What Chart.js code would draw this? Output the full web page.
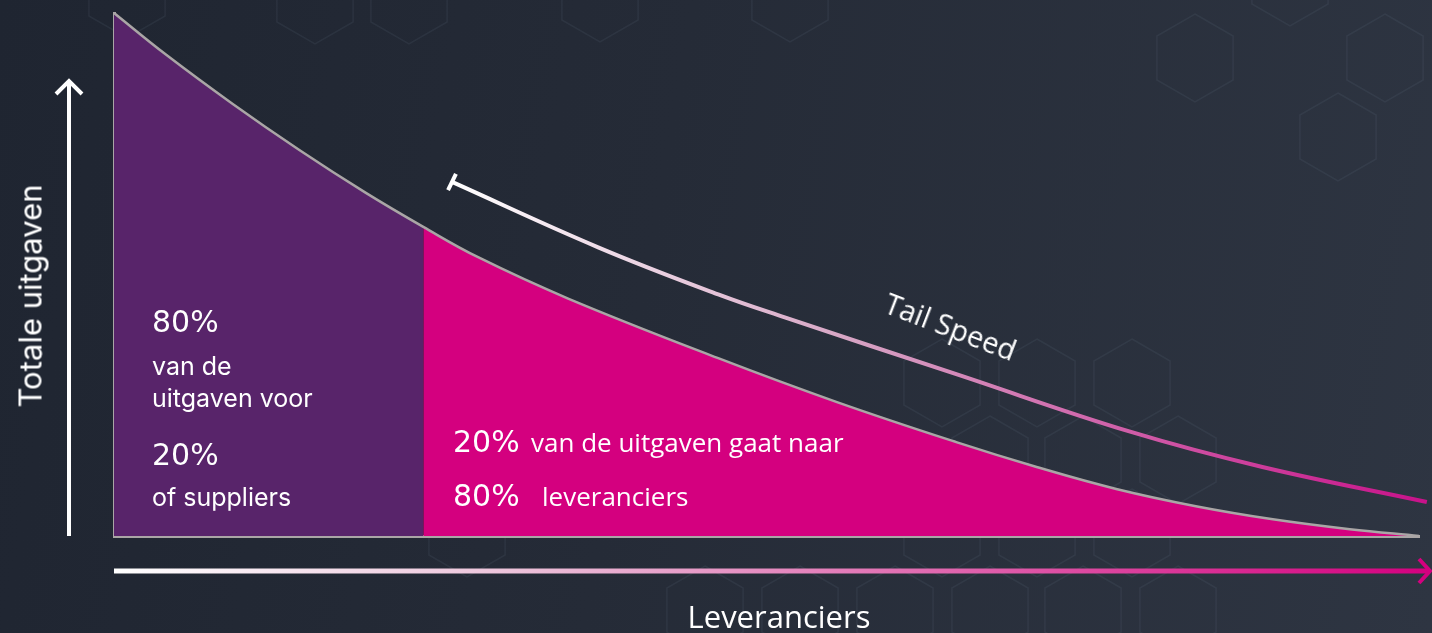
<!DOCTYPE html>
<html lang="nl">
<head>
<meta charset="UTF-8">
<title>Totale uitgaven per leverancier</title>
<script src="https://cdn.jsdelivr.net/npm/chart.js@4.4.1/dist/chart.umd.min.js"></script>
<style>
    html, body { margin: 0; padding: 0; }
    body {
        width: 1432px; height: 633px; overflow: hidden;
        background: linear-gradient(100deg, #1f2531 0%, #252b37 45%, #2e3542 100%);
        color: #fff;
        font-family: "Open Sans", sans-serif;
    }
    #wrap { position: relative; width: 1432px; height: 633px; }
    #chart { position: absolute; left: 0; top: 0; }
    .lbl { position: absolute; white-space: nowrap; line-height: 1; transform: translateY(-50%); }
    .pct { font-family: "DejaVu Sans", sans-serif; font-size: 30px; }
    .geo { font-family: "Inter", sans-serif; font-size: 25px; font-weight: 400; }
    .txt { font-size: 26px; }
</style>
</head>
<body>
<div id="wrap">
    <canvas id="chart" width="1432" height="633"></canvas>

    <div class="lbl geo" style="left:30px; top:296px; font-size:31px; transform: translate(-50%,-50%) rotate(-90deg);">Totale uitgaven</div>
    <div class="lbl txt" style="left:779px; top:616px; font-size:31px; transform: translate(-50%,-50%);">Leveranciers</div>

    <div class="lbl pct" style="left:152px; top:322px;">80%</div>
    <div class="lbl geo" style="left:152px; top:366px;">van de</div>
    <div class="lbl geo" style="left:152px; top:398px;">uitgaven voor</div>
    <div class="lbl pct" style="left:152px; top:455px;">20%</div>
    <div class="lbl geo" style="left:152px; top:497px;">of suppliers</div>

    <div class="lbl pct" style="left:453px; top:442px;">20%</div>
    <div class="lbl txt" style="left:531px; top:442px;">van de uitgaven gaat naar</div>
    <div class="lbl pct" style="left:453px; top:496px;">80%</div>
    <div class="lbl txt" style="left:542px; top:496px;">leveranciers</div>

    <div class="lbl txt" style="left:951px; top:326px; font-size:29px; transform: translate(-50%,-50%) rotate(21deg);">Tail Speed</div>
</div>

<script>
    // spend curve (x = % of suppliers, y = relative spend)
    var spendX = [0, 4.0, 9.1, 14.2, 19.3, 23.7, 27.9, 34.8, 46.3, 55.4, 64.6, 70.7, 76.8, 82.9, 88.8, 94.7, 100];
    var spendY = [100, 92.0, 82.6, 73.8, 65.6, 59.1, 53.3, 45.4, 34.0, 25.6, 17.9, 13.2, 9.0, 5.7, 3.2, 1.3, 0];
    var splitX = 23.7;

    // "tail speed" arrow above the curve
    var tailX = [25.9, 37.1, 46.3, 51.4, 64.6, 77.8, 88.0, 100.6];
    var tailY = [67.7, 55.2, 46.2, 41.8, 30.9, 20.0, 13.2, 6.5];

    var purple = '#58246a';
    var magenta = '#d4007f';
    var curveGrey = '#aaa6a6';

    function pts(xs, ys) {
        return xs.map(function (x, i) { return {x: x, y: ys[i]}; });
    }
    var allPts = pts(spendX, spendY);
    var headPts = allPts.filter(function (p) { return p.x <= splitX; });
    var tailPts = allPts.filter(function (p) { return p.x >= splitX; });

    var hexCells = [
        [127, -6], [315, 0], [409, 0], [600, -2], [790, -2],
        [1195, 58], [1290, -18], [1385, 58], [1338, 137],
        [942, 383], [1037, 383], [1132, 383],
        [990, 460], [1083, 460], [1178, 460],
        [467, 533], [942, 533], [1037, 533], [1132, 533],
        [705, 610], [800, 610], [895, 610], [990, 610], [1083, 610], [1178, 610]
    ];

    var backdrop = {
        id: 'backdrop',
        beforeDraw: function (chart) {
            var ctx = chart.ctx;
            ctx.save();
            ctx.strokeStyle = 'rgba(130,150,170,0.10)';
            ctx.lineWidth = 1.5;
            hexCells.forEach(function (c) {
                ctx.beginPath();
                for (var k = 0; k < 6; k++) {
                    var a = (-90 + 60 * k) * Math.PI / 180;
                    var px = c[0] + 44 * Math.cos(a), py = c[1] + 44 * Math.sin(a);
                    if (k === 0) ctx.moveTo(px, py); else ctx.lineTo(px, py);
                }
                ctx.closePath();
                ctx.stroke();
            });
            ctx.restore();
        },
        afterDraw: function (chart) {
            var ctx = chart.ctx, area = chart.chartArea;
            ctx.save();
            ctx.lineCap = 'butt';
            // vertical arrow
            var ax = area.left - 45;
            ctx.strokeStyle = '#ffffff';
            ctx.lineWidth = 4;
            ctx.beginPath();
            ctx.moveTo(ax, area.bottom);
            ctx.lineTo(ax, 82);
            ctx.stroke();
            ctx.beginPath();
            ctx.moveTo(ax - 13, 94);
            ctx.lineTo(ax, 81);
            ctx.lineTo(ax + 13, 94);
            ctx.stroke();
            // horizontal arrow
            var ay = area.bottom + 35;
            var g = ctx.createLinearGradient(area.left, 0, 1430, 0);
            g.addColorStop(0, '#ffffff');
            g.addColorStop(0.3, '#ecc3da');
            g.addColorStop(1, magenta);
            ctx.strokeStyle = g;
            ctx.lineWidth = 5;
            ctx.beginPath();
            ctx.moveTo(area.left, ay);
            ctx.lineTo(1428, ay);
            ctx.stroke();
            ctx.strokeStyle = magenta;
            ctx.lineWidth = 4;
            ctx.beginPath();
            ctx.moveTo(1419, ay - 12);
            ctx.lineTo(1430, ay);
            ctx.lineTo(1419, ay + 12);
            ctx.stroke();
            ctx.restore();
        }
    };

    function tailGradient(context) {
        var chart = context.chart;
        if (!chart.chartArea) return '#ffffff';
        var xs = chart.scales.x;
        var g = chart.ctx.createLinearGradient(xs.getPixelForValue(tailX[0]), 0, xs.getPixelForValue(tailX[tailX.length - 1]), 0);
        g.addColorStop(0, '#ffffff');
        g.addColorStop(0.4, '#d7a6c5');
        g.addColorStop(1, '#c8128a');
        return g;
    }

    var config = {
        type: 'line',
        data: {
            datasets: [
                {
                    label: 'tail speed',
                    data: pts(tailX, tailY),
                    borderColor: tailGradient,
                    borderWidth: 4,
                    tension: 0.4,
                    fill: false,
                    clip: false,
                    pointRadius: tailX.map(function (v, i) { return i === 0 ? 9 : 0; }),
                    pointStyle: 'line',
                    pointRotation: 116,
                    pointBorderColor: '#ffffff',
                    pointBorderWidth: 4,
                    order: 0
                },
                {
                    label: 'curve',
                    data: allPts,
                    borderColor: curveGrey,
                    borderWidth: 2.5,
                    tension: 0.4,
                    fill: false,
                    clip: false,
                    pointRadius: 0,
                    order: 1
                },
                {
                    label: '20% leveranciers',
                    data: headPts,
                    borderWidth: 0,
                    borderColor: purple,
                    backgroundColor: purple,
                    tension: 0.4,
                    fill: 'origin',
                    pointRadius: 0,
                    order: 2
                },
                {
                    label: '80% leveranciers',
                    data: tailPts,
                    borderWidth: 0,
                    borderColor: magenta,
                    backgroundColor: magenta,
                    tension: 0.4,
                    fill: 'origin',
                    pointRadius: 0,
                    order: 3
                }
            ]
        },
        options: {
            responsive: false,
            animation: false,
            layout: {padding: {left: 106, right: 0, top: 12, bottom: 89}},
            plugins: {legend: {display: false}, tooltip: {enabled: false}},
            scales: {
                x: {
                    type: 'linear', min: 0, max: 100,
                    grid: {display: false},
                    ticks: {display: false},
                    border: {display: true, color: curveGrey, width: 3}
                },
                y: {
                    min: 0, max: 100,
                    grid: {display: false},
                    ticks: {display: false},
                    border: {display: true, color: curveGrey, width: 3}
                }
            }
        },
        plugins: [backdrop]
    };

    window.onload = function () {
        var ctx = document.getElementById('chart').getContext('2d');
        window.myChart = new Chart(ctx, config);
    };
</script>
</body>
</html>
